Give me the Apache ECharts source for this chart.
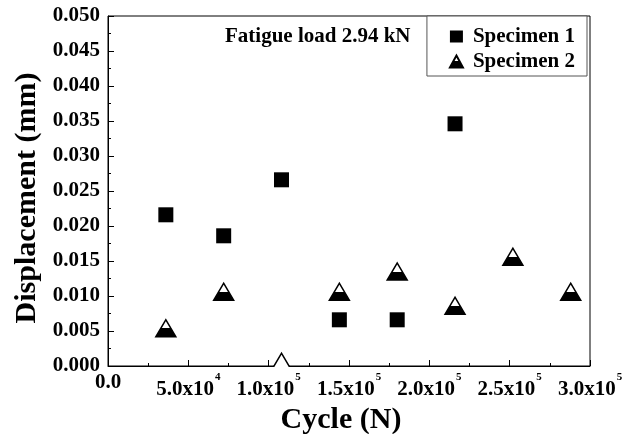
<!DOCTYPE html>
<html>
<head>
<meta charset="utf-8">
<script src="https://cdn.jsdelivr.net/npm/echarts@6/dist/echarts.min.js"></script>
<style>
  html, body { margin: 0; padding: 0; background: #fff; }
  #chart { width: 635px; height: 434px; }
</style>
</head>
<body>
<div id="chart"></div>
<script>
// cycles (N) and displacement (mm)
const spec1Cycles = [36000, 72000, 108000, 144000, 180000, 216000];
const spec1Disp = [0.0216, 0.0186, 0.0266, 0.0066, 0.0066, 0.0346];
const spec2Cycles = [36000, 72000, 108000, 144000, 180000, 216000, 252000, 288000];
const spec2Disp = [0.0054, 0.0106, 0.0006, 0.0106, 0.0135, 0.0086, 0.0156, 0.0106];
const xTickExp = { 50000: '4', 100000: '5', 150000: '5', 200000: '5', 250000: '5', 300000: '5' };

const W = 635, H = 434;
const GRID = { left: 108, top: 16, right: 45, bottom: 68 };
const SERIF = 'Liberation Serif';

// triangle: white top half, black bottom half
const halfFill = new echarts.graphic.LinearGradient(0, 0, 0, 1, [
  { offset: 0, color: '#fff' },
  { offset: 0.5, color: '#fff' },
  { offset: 0.5, color: '#000' },
  { offset: 1, color: '#000' },
]);

const chart = echarts.init(document.getElementById('chart'), null, { renderer: 'canvas' });

const axisText = { color: '#000', fontFamily: SERIF, fontWeight: 'bold', fontSize: 21 };

chart.setOption({
  animation: false,
  backgroundColor: '#fff',
  grid: {
    ...GRID,
    outerBoundsMode: 'none',
    containLabel: false,
    show: true, borderColor: '#000', borderWidth: 1,
  },
  graphic: [
    {
      id: 'note',
      type: 'text',
      left: 225,
      top: 26,
      style: { text: 'Fatigue load 2.94 kN', font: 'bold 21px "Liberation Serif"', fill: '#000' },
    },
    {
      // the original clips markers to the frame: hide what hangs below the x axis
      id: 'clip-mask',
      type: 'rect',
      z: 100,
      silent: true,
      shape: { x: GRID.left + 1, y: H - GRID.bottom + 1, width: W - GRID.left - GRID.right - 2, height: 5 },
      style: { fill: '#fff' },
    },
  ],
  legend: {
    right: 48,
    top: 16,
    orient: 'vertical',
    align: 'left',
    padding: [10, 12, 4, 22],
    itemGap: 4,
    itemWidth: 13,
    itemHeight: 12,
    borderColor: '#555',
    borderWidth: 1,
    backgroundColor: '#fff',
    textStyle: { ...axisText, lineHeight: 21, padding: [0, 0, 0, 5] },
    data: [
      { name: 'Specimen 1', icon: 'rect' },
      { name: 'Specimen 2', icon: 'triangle' },
    ],
  },
  xAxis: {
    type: 'value',
    min: 0,
    max: 300000,
    interval: 50000,
    name: 'Cycle (N)',
    nameLocation: 'middle',
    nameGap: 32,
    nameTextStyle: { color: '#000', fontFamily: SERIF, fontWeight: 'bold', fontSize: 30, padding: [0, 16, 0, 0] },
    axisLine: { show: true, onZero: false, lineStyle: { color: '#000', width: 1 } },
    axisTick: { show: true, inside: true, length: 6, lineStyle: { color: '#000' } },
    minorTick: { show: true, splitNumber: 2, length: 3, lineStyle: { color: '#000' } },
    splitLine: { show: false },
    axisLabel: {
      margin: 6,
      formatter: v => (v === 0 ? '{a|0.0}' : `{a|${(v / Math.pow(10, +xTickExp[v])).toFixed(1)}x10}{s|${xTickExp[v]}}`),
      rich: {
        a: { ...axisText },
        s: { ...axisText, fontSize: 11, padding: [0, 0, 24, 1] },
      },
    },
  },
  yAxis: {
    type: 'value',
    min: 0,
    max: 0.05,
    interval: 0.005,
    name: 'Displacement (mm)',
    nameLocation: 'middle',
    nameGap: 66,
    nameTextStyle: { color: '#000', fontFamily: SERIF, fontWeight: 'bold', fontSize: 30, padding: [0, 14, 0, 0] },
    axisLine: { show: true, lineStyle: { color: '#000', width: 1 } },
    axisTick: { show: true, inside: true, length: 6, lineStyle: { color: '#000' } },
    minorTick: { show: true, splitNumber: 2, length: 3, lineStyle: { color: '#000' } },
    splitLine: { show: false },
    axisLabel: { ...axisText, margin: 8, formatter: v => v.toFixed(3) },
  },
  series: [
    {
      name: 'Specimen 1',
      type: 'scatter',
      symbol: 'rect',
      symbolSize: 15,
      itemStyle: { color: '#000', opacity: 1 },
      data: spec1Cycles.map((c, i) => [c, spec1Disp[i]]),
    },
    {
      name: 'Specimen 2',
      type: 'scatter',
      symbol: 'triangle',
      symbolSize: [20, 17],
      itemStyle: { color: halfFill, borderColor: '#000', borderWidth: 1.5, opacity: 1 },
      // a point sitting on the axis shows only its open upper part
      data: spec2Cycles.map((c, i) =>
        spec2Disp[i] < 0.001
          ? { value: [c, spec2Disp[i]], itemStyle: { color: '#fff' } }
          : [c, spec2Disp[i]]),
    },
  ],
});
</script>
</body>
</html>
